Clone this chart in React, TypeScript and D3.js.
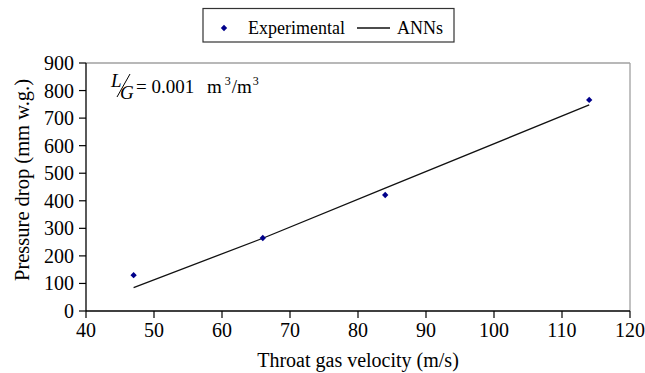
import React from 'react'
import * as d3 from 'd3'

// experimental measurements
const expVelocity = [47, 66, 84, 114]
const expPressure = [130, 265, 421, 766]

// ANNs prediction
const annVelocity = [47, 66, 84, 114]
const annPressure = [85, 264, 446, 748]

const xTicks = [40, 50, 60, 70, 80, 90, 100, 110, 120]
const yTicks = [0, 100, 200, 300, 400, 500, 600, 700, 800, 900]

const W = 645
const H = 373
const margin = { left: 86, right: 15, top: 63, bottom: 62 }
const FONT = 'Liberation Serif, Times New Roman, serif'

const App = () => {
  const x = d3.scaleLinear().domain([40, 120]).range([margin.left, W - margin.right])
  const y = d3.scaleLinear().domain([0, 900]).range([H - margin.bottom, margin.top])

  const line = d3.line<[number, number]>()
    .x(d => x(d[0]))
    .y(d => y(d[1]))
  const annPts = annVelocity.map((v, i) => [v, annPressure[i]] as [number, number])

  // small square turned 45deg, like the excel diamond
  const diamond = d3.symbol().type(d3.symbolSquare).size(20)() || ''

  const x0 = x(40), x1 = x(120), y0 = y(0), y1 = y(900)

  return (
    <svg width={W} height={H} style={{ position: 'absolute', left: 0, top: 0 }} fontFamily={FONT}>
      <rect width={W} height={H} fill="#fff" />

      {/* plot frame: top and right in gray */}
      <line x1={x0} x2={x1} y1={y1} y2={y1} stroke="#a0a0a0" strokeWidth={1.3} />
      <line x1={x1} x2={x1} y1={y1} y2={y0} stroke="#a0a0a0" strokeWidth={1.3} />

      {/* y axis */}
      <line x1={x0} x2={x0} y1={y1} y2={y0} stroke="#000" strokeWidth={1.3} />
      {yTicks.map(t => (
        <g key={t}>
          <line x1={x0 - 7} x2={x0} y1={y(t)} y2={y(t)} stroke="#000" strokeWidth={1.2} />
          <text x={x0 - 12} y={y(t)} dy="0.35em" textAnchor="end" fontSize={20} fontFamily={FONT}>{t}</text>
        </g>
      ))}

      {/* x axis */}
      <line x1={x0} x2={x1} y1={y0} y2={y0} stroke="#000" strokeWidth={1.3} />
      {xTicks.map(t => (
        <g key={t}>
          <line x1={x(t)} x2={x(t)} y1={y0} y2={y0 + 7} stroke="#000" strokeWidth={1.2} />
          <text x={x(t)} y={y0 + 26} textAnchor="middle" fontSize={20} fontFamily={FONT}>{t}</text>
        </g>
      ))}

      {/* axis titles */}
      <text x={(x0 + x1) / 2} y={367} textAnchor="middle" fontSize={20} fontFamily={FONT}>Throat gas velocity (m/s)</text>
      <text transform={`translate(29,180) rotate(-90)`} textAnchor="middle" fontSize={20.5} fontFamily={FONT}>Pressure drop (mm w.g.)</text>

      {/* ANNs line */}
      <path d={line(annPts) || ''} fill="none" stroke="#111" strokeWidth={1.3} />

      {/* experimental points */}
      {expVelocity.map((v, i) => (
        <path key={i} d={diamond} transform={`translate(${x(v)},${y(expPressure[i])}) rotate(45)`} fill="#00008b" />
      ))}

      {/* annotation */}
      <g fontSize={19} fontFamily={FONT}>
        <text x={111} y={87} fontStyle="italic">L</text>
        <line x1={130} x2={117} y1={74} y2={97} stroke="#000" strokeWidth={1} />
        <text x={120} y={99} fontStyle="italic">G</text>
        <text x={136} y={93}>= 0.001</text>
        <text x={207} y={93}>m<tspan dx={3} dy={-8} fontSize={12}>3</tspan><tspan dx={1} dy={8}>/m</tspan><tspan dx={1} dy={-8} fontSize={12}>3</tspan></text>
      </g>

      {/* legend */}
      <rect x={203} y={8.5} width={251} height={33.5} fill="#fff" stroke="#333" strokeWidth={1.2} />
      <path d={diamond} transform="translate(224,28) rotate(45)" fill="#00008b" />
      <text x={248} y={34} fontSize={18} fontFamily={FONT}>Experimental</text>
      <line x1={357} x2={390} y1={28} y2={28} stroke="#111" strokeWidth={1.3} />
      <text x={397} y={34} fontSize={18} fontFamily={FONT}>ANNs</text>
    </svg>
  )
}

export default App
